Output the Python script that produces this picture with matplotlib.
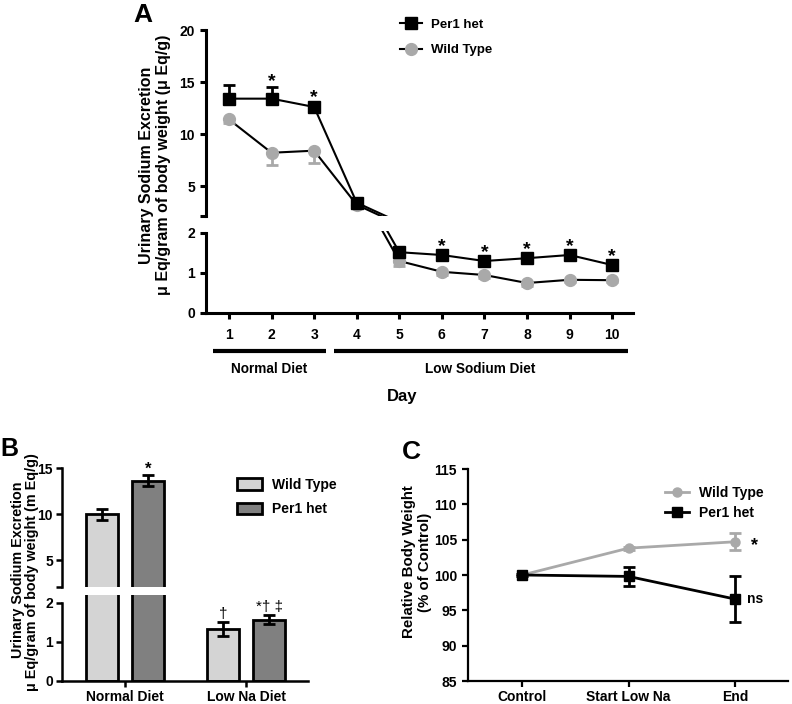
import matplotlib
matplotlib.use("Agg")
import matplotlib.pyplot as plt
import matplotlib.transforms as mtransforms
from matplotlib.patches import Patch
from matplotlib.lines import Line2D
import numpy as np

plt.rcParams["font.family"] = ["Liberation Sans", "DejaVu Sans"]
plt.rcParams["font.weight"] = "bold"
plt.rcParams["axes.labelweight"] = "bold"

# ---- Panel A data: urinary sodium excretion by day ----
days = np.arange(1, 11)
per1_a = [13.4, 13.4, 12.6, 3.4, 1.52, 1.45, 1.30, 1.37, 1.45, 1.20]
per1_a_err = [1.3, 1.1, 0.4, 0.3, 0.08, 0.07, 0.07, 0.07, 0.07, 0.07]
wt_a = [11.4, 8.2, 8.4, 3.2, 1.30, 1.03, 0.95, 0.75, 0.83, 0.82]
wt_a_err = [0.3, 1.2, 1.2, 0.3, 0.12, 0.07, 0.07, 0.07, 0.05, 0.05]
star_days_a = [2, 3, 6, 7, 8, 9, 10]

# ---- Panel B data: mean excretion per diet ----
diets_b = ["Normal Diet", "Low Na Diet"]
wt_b = [10.0, 1.33]
wt_b_err = [0.6, 0.17]
per1_b = [13.6, 1.57]
per1_b_err = [0.6, 0.12]
per1_b_marks = ["*", "*† ‡"]
wt_b_marks = ["", "†"]

# ---- Panel C data: relative body weight ----
stages_c = ["Control", "Start Low Na", "End"]
wt_c = [100.0, 103.8, 104.7]
wt_c_err = [0.1, 0.2, 1.2]
per1_c = [100.0, 99.8, 96.6]
per1_c_err = [0.2, 1.3, 3.2]
marks_c = ["*", "ns"]

GRAY = "#a9a9a9"
TICK_FS = 10
W, H = 792, 704
fig = plt.figure(figsize=(W / 100, H / 100), dpi=100)


def px_axes(left, top, right, bottom):
    return fig.add_axes([left / W, 1 - bottom / H, (right - left) / W, (bottom - top) / H])


def style(ax, lw=2.2):
    for s in ["top", "right"]:
        ax.spines[s].set_visible(False)
    for s in ["left", "bottom"]:
        ax.spines[s].set_linewidth(lw)
    ax.tick_params(width=lw, length=4.5, labelsize=TICK_FS, direction="out")
    for lab in ax.get_xticklabels() + ax.get_yticklabels():
        lab.set_fontweight("bold")


# ================= Panel A =================
axA_up = px_axes(206, 30, 633, 216)
axA_lo = px_axes(206, 231, 633, 313)
A_BREAK = 2.12
A_LO_TOP = 2.05
x_a = np.array(days)
for ax, lo, hi in ((axA_up, A_BREAK, 25), (axA_lo, -1, A_LO_TOP)):
    for vals, errs, mk, fc, ms, z, up in (
            (wt_a, wt_a_err, "o", GRAY, 8.5, 3, False),
            (per1_a, per1_a_err, "s", "black", 9, 4, True)):
        v = np.array(vals)
        e = np.array(errs)
        ax.plot(x_a, v, color="black", lw=1.5, zorder=z)
        keep = (v >= lo) & (v <= hi)
        yerr = [np.zeros(keep.sum()), e[keep]] if up else [e[keep], np.zeros(keep.sum())]
        ax.errorbar(x_a[keep], v[keep], yerr=yerr, fmt=mk, mfc=fc, mec=fc, ms=ms,
                    ecolor=fc, elinewidth=2, capsize=4.5, capthick=2, zorder=z)
    ax.set_xlim(0.46, 10.49)
    style(ax)

axA_up.set_ylim(A_BREAK, 20)
axA_up.spines["left"].set_bounds(A_BREAK, 20)
axA_up.set_yticks([A_BREAK, 5, 10, 15, 20])
axA_up.set_yticklabels(["", "5", "10", "15", "20"], fontweight="bold")
axA_up.spines["bottom"].set_visible(False)
axA_up.tick_params(axis="x", bottom=False, labelbottom=False)

axA_lo.set_ylim(0, A_LO_TOP)
axA_lo.spines["left"].set_bounds(0, 2)
axA_lo.set_yticks([0, 1, 2])
axA_lo.set_yticklabels(["0", "1", "2"], fontweight="bold")
axA_lo.set_xticks(days)
axA_lo.set_xticklabels([str(d) for d in days], fontweight="bold")
axA_lo.tick_params(axis="x", pad=6)

for d in star_days_a:
    i = d - 1
    top = per1_a[i] + per1_a_err[i]
    ax = axA_up if per1_a[i] > A_BREAK else axA_lo
    ax.annotate("*", (d, top), xytext=(0, -2), textcoords="offset points", ha="center",
                va="bottom", fontsize=14, fontweight="bold", annotation_clip=False)

# diet group bars under the day axis
trA = mtransforms.blended_transform_factory(axA_lo.transData, axA_lo.transAxes)
axA_lo.plot([0.62, 3.28], [-0.46, -0.46], color="black", lw=3, transform=trA, clip_on=False,
            solid_capstyle="butt")
axA_lo.plot([3.47, 10.38], [-0.46, -0.46], color="black", lw=3, transform=trA, clip_on=False,
            solid_capstyle="butt")
axA_lo.text(1.95, -0.68, "Normal Diet", transform=trA, ha="center", va="center",
            fontsize=9.8, fontweight="bold")
axA_lo.text(6.9, -0.68, "Low Sodium Diet", transform=trA, ha="center", va="center",
            fontsize=9.8, fontweight="bold")
fig.text(402 / W, 1 - 397 / H, "Day", ha="center", va="center", fontsize=12, fontweight="bold")

fig.text(155 / W, 1 - 165 / H,
         "Urinary Sodium Excretion\nμ Eq/gram of body weight (μ Eq/g)",
         rotation=90, ha="center", va="center", fontsize=11.5, fontweight="bold",
         multialignment="center", linespacing=1.15)
fig.text(133 / W, 1 - 15 / H, "A", ha="left", va="center", fontsize=19, fontweight="bold")

legA = [Line2D([], [], color="black", marker="s", ms=9, lw=1.5),
        Line2D([], [], color="black", marker="o", mfc=GRAY, mec=GRAY, ms=8.5, lw=1.5)]
fig.legend(legA, ["Per1 het", "Wild Type"], loc="upper left",
           bbox_to_anchor=(393 / W, 1 - 12 / H), frameon=False,
           handlelength=1.7, handletextpad=0.7, labelspacing=1.0, borderpad=0,
           prop={"weight": "bold", "size": 9.5})

# ================= Panel B =================
axB_up = px_axes(62, 468, 308, 587)
axB_lo = px_axes(62, 595, 308, 681)
xb = np.arange(len(diets_b))
bw, off = 0.26, 0.19
for ax in (axB_up, axB_lo):
    ax.bar(xb - off, wt_b, bw, color="#d4d4d4", edgecolor="black", lw=2, zorder=2)
    ax.bar(xb + off, per1_b, bw, color="#808080", edgecolor="black", lw=2, zorder=2)
    ax.errorbar(xb - off, wt_b, yerr=wt_b_err, fmt="none", ecolor="black", elinewidth=2,
                capsize=4.3, capthick=2, zorder=3)
    ax.errorbar(xb + off, per1_b, yerr=per1_b_err, fmt="none", ecolor="black", elinewidth=2,
                capsize=4.3, capthick=2, zorder=3)
    ax.set_xlim(-0.52, 1.51)
    style(ax, lw=1.8)
    ax.tick_params(axis="y", pad=2)

axB_up.set_ylim(2.1, 15)
axB_up.spines["left"].set_bounds(2.1, 15)
axB_up.set_yticks([2.1, 5, 10, 15])
axB_up.set_yticklabels(["", "5", "10", "15"], fontweight="bold")
axB_up.spines["bottom"].set_visible(False)
axB_up.tick_params(axis="x", bottom=False, labelbottom=False)

axB_lo.set_ylim(0, 2.2)
axB_lo.spines["left"].set_bounds(0, 2)
axB_lo.set_yticks([0, 1, 2])
axB_lo.set_yticklabels(["0", "1", "2"], fontweight="bold")
axB_lo.set_xticks(xb)
axB_lo.set_xticklabels(diets_b, fontweight="bold")
axB_lo.tick_params(axis="x", pad=2)

for i in range(len(diets_b)):
    ax = axB_up if per1_b[i] > 2.1 else axB_lo
    big = per1_b_marks[i] == "*"
    ax.annotate(per1_b_marks[i], (xb[i] + off, per1_b[i] + per1_b_err[i]),
                xytext=(0, -1 if big else 1), textcoords="offset points", ha="center",
                va="bottom", fontsize=12 if big else 11,
                fontweight="bold" if big else "normal", annotation_clip=False)
    if wt_b_marks[i]:
        ax = axB_up if wt_b[i] > 2.1 else axB_lo
        ax.annotate(wt_b_marks[i], (xb[i] - off, wt_b[i] + wt_b_err[i]), xytext=(0, 1),
                    textcoords="offset points", ha="center", va="bottom", fontsize=11,
                    fontweight="normal", annotation_clip=False)

# y label of panel B, one text per line so the two lines sit where the reference has them
fig.text(18 / W, 1 - 570 / H, "Urinary Sodium Excretion", rotation=90, ha="center",
         va="center", fontsize=10.4, fontweight="bold")
fig.text(32 / W, 1 - 572 / H, "μ Eq/gram of body weight (m Eq/g)", rotation=90,
         ha="center", va="center", fontsize=10.4, fontweight="bold")
fig.text(0, 1 - 449 / H, "B", ha="left", va="center", fontsize=18, fontweight="bold")

legB = [Patch(facecolor="#d4d4d4", edgecolor="black", lw=2),
        Patch(facecolor="#808080", edgecolor="black", lw=2)]
fig.legend(legB, ["Wild Type", "Per1 het"], loc="upper left",
           bbox_to_anchor=(230 / W, 1 - 471 / H), frameon=False, handlelength=1.8,
           handleheight=0.9, handletextpad=0.75, labelspacing=0.75, borderpad=0,
           prop={"weight": "bold", "size": 10})

# ================= Panel C =================
axC = px_axes(468, 469, 788, 681)
xc = np.arange(len(stages_c))
axC.errorbar(xc, wt_c, yerr=wt_c_err, fmt="-o", color=GRAY, ms=6.5, lw=2, ecolor=GRAY,
             elinewidth=2, capsize=4, capthick=2, zorder=3)
axC.errorbar(xc, per1_c, yerr=per1_c_err, fmt="-s", color="black", ms=6.5, lw=2,
             ecolor="black", elinewidth=2, capsize=4, capthick=2, zorder=4)
axC.set_xlim(-0.51, 2.5)
axC.set_ylim(85, 115)
axC.set_yticks(np.arange(85, 116, 5))
axC.set_xticks(xc)
axC.set_xticklabels(stages_c)
style(axC, lw=1.6)
axC.tick_params(axis="x", pad=2)
axC.annotate(marks_c[0], (xc[-1], wt_c[-1]), xytext=(14, -3), textcoords="offset points",
             ha="center", va="center", fontsize=13, fontweight="bold", annotation_clip=False)
axC.annotate(marks_c[1], (xc[-1], per1_c[-1]), xytext=(9, 0), textcoords="offset points",
             ha="left", va="center", fontsize=10, fontweight="bold", annotation_clip=False)

fig.text(417 / W, 1 - 562 / H, "Relative Body Weight\n(% of Control)", rotation=90,
         ha="center", va="center", fontsize=10.8, fontweight="bold",
         multialignment="center", linespacing=1.1)
fig.text(402 / W, 1 - 452 / H, "C", ha="left", va="center", fontsize=19, fontweight="bold")

legC = [Line2D([], [], color=GRAY, marker="o", ms=6.5, lw=2),
        Line2D([], [], color="black", marker="s", ms=6.5, lw=2)]
fig.legend(legC, ["Wild Type", "Per1 het"], loc="upper left",
           bbox_to_anchor=(658 / W, 1 - 479 / H), frameon=False, handlelength=1.75,
           handletextpad=0.7, labelspacing=0.45, borderpad=0,
           prop={"weight": "bold", "size": 10})

fig.savefig("out.png", dpi=100)
